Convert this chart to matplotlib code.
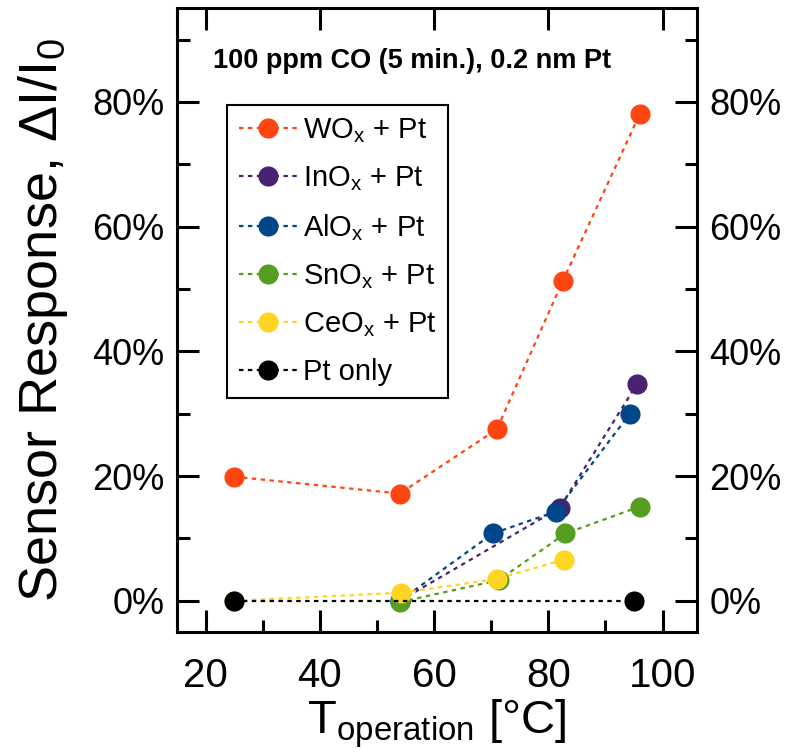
import matplotlib
matplotlib.use('Agg')
import matplotlib.pyplot as plt
from matplotlib.ticker import MultipleLocator, PercentFormatter

plt.rcParams['font.family'] = ['Liberation Sans', 'DejaVu Sans']
plt.rcParams['mathtext.default'] = 'regular'

# data (temperature in C, response in %)
t_wo = [25, 54, 71, 82.5, 96]
r_wo = [19.9, 17.2, 27.5, 51.2, 78.0]
t_in = [54, 82, 95.5]
r_in = [0.0, 14.9, 34.7]
t_al = [54, 70.3, 81.3, 94.3]
r_al = [0.0, 10.8, 14.3, 30.0]
t_sn = [54, 71.3, 83, 96]
r_sn = [-0.2, 3.3, 10.8, 15.1]
t_ce = [25, 54.3, 71, 82.7]
r_ce = [0.0, 1.3, 3.5, 6.6]
t_pt = [25, 95]
r_pt = [0.0, 0.0]

labels = ['WO$_x$ + Pt', 'InO$_x$ + Pt', 'AlO$_x$ + Pt',
          'SnO$_x$ + Pt', 'CeO$_x$ + Pt', 'Pt only']
colors = ['#ff4512', '#4b2171', '#00478a', '#559e22', '#ffd423', '#000000']
series = [(t_wo, r_wo), (t_in, r_in), (t_al, r_al),
          (t_sn, r_sn), (t_ce, r_ce), (t_pt, r_pt)]

fig = plt.figure(figsize=(7.9, 7.56), dpi=100)
ax = fig.add_axes([0.224, 0.164, 0.658, 0.825])

for (t, r), c, lab in zip(series, colors, labels):
    ax.plot(t, r, linestyle=(0, (2, 2)), lw=1.6, color=c, marker='o',
            markersize=14.5, markeredgewidth=0, label=lab)

ax.set_xlim(15, 106)
ax.set_ylim(-5, 95)
ax.xaxis.set_major_locator(MultipleLocator(20))
ax.xaxis.set_minor_locator(MultipleLocator(10))
ax.yaxis.set_major_locator(MultipleLocator(20))
ax.yaxis.set_minor_locator(MultipleLocator(10))
ax.yaxis.set_major_formatter(PercentFormatter(decimals=0))

ax.tick_params(which='both', direction='in', width=2.2, top=True, right=True,
               labelright=True)
ax.tick_params(which='major', length=16)
ax.tick_params(which='minor', length=9)
ax.tick_params(axis='x', which='minor', top=False)
ax.tick_params(axis='y', labelsize=26, pad=9)
ax.tick_params(axis='x', labelsize=29, pad=18)
for s in ax.spines.values():
    s.set_linewidth(2.2)

ax.set_xlabel('T$_{operation}$ [°C]', fontsize=34, labelpad=2)
ax.set_ylabel('Sensor Response, ΔI/I$_0$', fontsize=39, labelpad=16)

ax.text(0.452, 0.915, '100 ppm CO (5 min.), 0.2 nm Pt', transform=ax.transAxes,
        ha='center', va='center', fontsize=19.5, fontweight='bold')

leg = ax.legend(loc='upper left', bbox_to_anchor=(0.096, 0.845), fontsize=21,
                frameon=True, fancybox=False, edgecolor='black', framealpha=1,
                borderaxespad=0, handlelength=2.0, labelspacing=0.655,
                handletextpad=0.2, borderpad=0.4)
leg.get_frame().set_linewidth(1.5)

fig.savefig('out.png', dpi=100)
